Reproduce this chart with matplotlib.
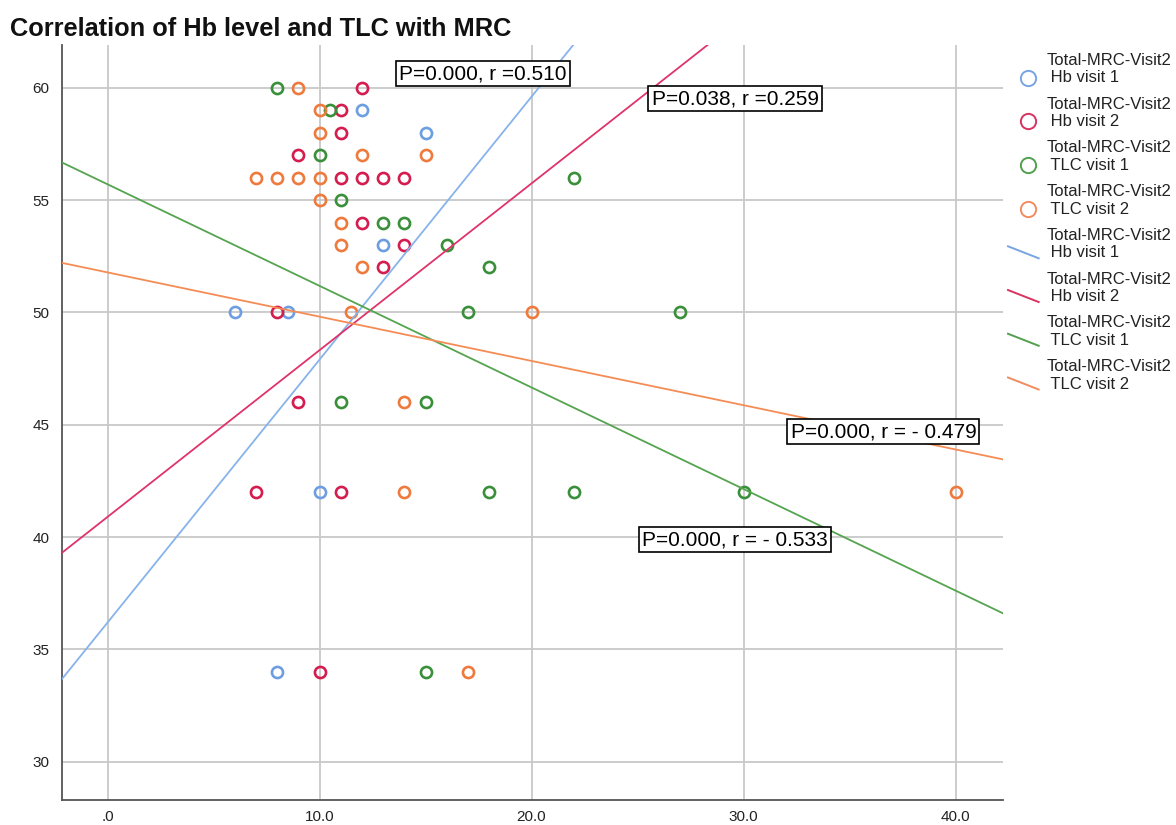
import numpy as np
import matplotlib
matplotlib.use("Agg")
import matplotlib.pyplot as plt
from matplotlib.lines import Line2D
from matplotlib.legend_handler import HandlerBase

plt.rcParams["font.family"] = ["Liberation Sans", "DejaVu Sans"]

# ---------------------------------------------------------------------------
# Data (x = Hb / TLC value, y = Total MRC visit 2)
# ---------------------------------------------------------------------------
hb1_x = [12, 15, 13, 6, 8.5, 10, 8]
hb1_y = [59, 58, 53, 50, 50, 42, 34]

hb2_x = [12, 11, 11, 9, 11, 12, 13, 14, 12, 14, 13, 8, 9, 7, 11, 10]
hb2_y = [60, 59, 58, 57, 56, 56, 56, 56, 54, 53, 52, 50, 46, 42, 42, 34]

tlc1_x = [8, 10.5, 10, 22, 11, 13, 14, 16, 18, 17, 27, 11, 15, 18, 22, 30, 15]
tlc1_y = [60, 59, 57, 56, 55, 54, 54, 53, 52, 50, 50, 46, 46, 42, 42, 42, 34]

tlc2_x = [9, 10, 10, 12, 15, 7, 8, 9, 10, 10, 11, 11, 12, 11.5, 20, 14, 14, 40, 17]
tlc2_y = [60, 59, 58, 57, 57, 56, 56, 56, 56, 55, 54, 53, 52, 50, 50, 46, 42, 42, 34]

# fit lines: intercept, slope
fit_intercept = [36.2, 40.9, 55.7, 51.78]
fit_slope = [1.17, 0.742, -0.452, -0.197]

# annotation text and anchor (data coords)
notes = ["P=0.000, r =0.510", "P=0.038, r =0.259",
         "P=0.000, r = - 0.479", "P=0.000, r = - 0.533"]
note_x = [17.7, 29.6, 36.6, 29.6]
note_y = [60.62, 59.51, 44.69, 39.88]

series_name = ["Total-MRC-Visit2\n Hb visit 1", "Total-MRC-Visit2\n Hb visit 2",
               "Total-MRC-Visit2\n TLC visit 1", "Total-MRC-Visit2\n TLC visit 2"]

pt_colors = ["#6d9ee2", "#d51c4e", "#3a8f3a", "#ee7a3e"]
ln_colors = ["#86b4ea", "#e0336a", "#55a44f", "#f58c55"]
lg_colors = ["#78a4e0", "#d8325f", "#52a04f", "#f08c60"]


class HandlerSlant(HandlerBase):
    """Short descending diagonal as legend key for fit lines."""
    def create_artists(self, legend, orig_handle, xdescent, ydescent,
                       width, height, fontsize, trans):
        x0 = -xdescent
        y0 = -ydescent
        ln = Line2D([x0, x0 + width * 0.92], [y0 + height * 0.33, y0 - height * 0.7],
                    color=orig_handle.get_color(), lw=orig_handle.get_linewidth())
        ln.set_transform(trans)
        return [ln]


class HandlerLowMarker(HandlerBase):
    """Open circle key, sitting level with the second label line."""
    def create_artists(self, legend, orig_handle, xdescent, ydescent,
                       width, height, fontsize, trans):
        x = -xdescent + width * 0.6
        y = -ydescent + height * 0.5 - fontsize * 0.5
        mk = Line2D([x], [y], ls="none", marker="o", ms=orig_handle.get_markersize(),
                    mfc="none", mec=orig_handle.get_markeredgecolor(),
                    mew=orig_handle.get_markeredgewidth())
        mk.set_transform(trans)
        return [mk]


fig = plt.figure(figsize=(11.76, 8.25), dpi=100)
ax = fig.add_axes([62 / 1176, 1 - 800 / 825, (1003 - 62) / 1176, (800 - 45) / 825])

ax.set_xlim(-2.15, 42.24)
ax.set_ylim(28.3, 61.9)
ax.set_xticks([0, 10, 20, 30, 40])
ax.set_xticklabels([".0", "10.0", "20.0", "30.0", "40.0"])
ax.set_yticks([30, 35, 40, 45, 50, 55, 60])
ax.grid(True, color="#c8c8c8", lw=1.3)
ax.set_axisbelow(True)
for side in ["top", "right"]:
    ax.spines[side].set_visible(False)
for side in ["left", "bottom"]:
    ax.spines[side].set_color("#555555")
    ax.spines[side].set_linewidth(1.3)
ax.tick_params(axis="both", length=0, labelsize=11, colors="#222222")
ax.tick_params(axis="y", pad=9)
ax.tick_params(axis="x", pad=7)

xs_all = [hb1_x, hb2_x, tlc1_x, tlc2_x]
ys_all = [hb1_y, hb2_y, tlc1_y, tlc2_y]
for xs, ys, c in zip(xs_all, ys_all, pt_colors):
    ax.plot(xs, ys, ls="none", marker="o", ms=8, mfc="none", mec=c, mew=1.9, zorder=3)

xr = np.array(ax.get_xlim())
for a, b, c in zip(fit_intercept, fit_slope, ln_colors):
    ax.plot(xr, a + b * xr, color=c, lw=1.3, zorder=4)
ax.set_xlim(xr)

for s, x, y in zip(notes, note_x, note_y):
    ax.text(x, y, s, ha="center", va="center", fontsize=15, color="black", zorder=6,
            bbox=dict(boxstyle="square,pad=0.15", fc="white", ec="black", lw=1.2))

fig.text(10 / 1176, 1 - 29 / 825, "Correlation of Hb level and TLC with MRC",
         ha="left", va="center", fontsize=18.3, fontweight="bold", color="#111111")

# legend
marker_handles = [Line2D([], [], ls="none", marker="o", ms=11, mfc="none", mec=c, mew=1.4)
                  for c in lg_colors]
line_handles = [Line2D([], [], color=c, lw=1.4) for c in lg_colors]
handles = marker_handles + line_handles
labels = series_name + series_name
hmap = {h: HandlerSlant() for h in line_handles}
hmap.update({h: HandlerLowMarker() for h in marker_handles})
leg = fig.legend(handles, labels, loc="upper left", bbox_to_anchor=(1008 / 1176, 1 - 53 / 825),
                 frameon=False, fontsize=12, handlelength=2.0, handletextpad=0.3,
                 borderpad=0, borderaxespad=0, labelspacing=0.68, handler_map=hmap)
for t in leg.get_texts():
    t.set_color("#222222")

fig.savefig("out.png", dpi=100)
